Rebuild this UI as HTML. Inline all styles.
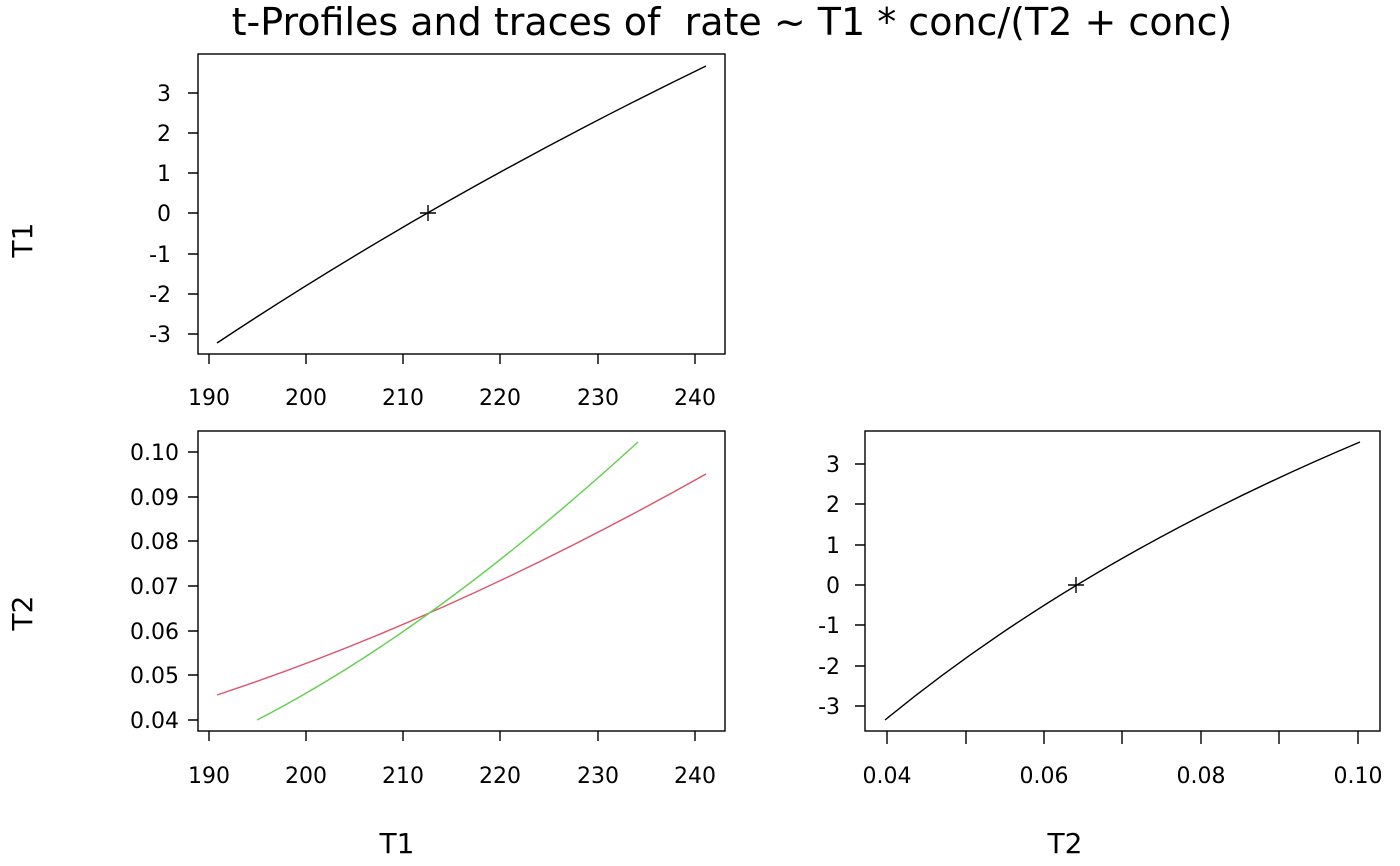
<!DOCTYPE html>
<html><head><meta charset="utf-8"><style>body{margin:0;background:#fff}svg{display:block}</style></head><body>
<svg width="1400" height="866" xmlns="http://www.w3.org/2000/svg" font-family="DejaVu Sans, Liberation Sans, sans-serif" fill="none">
<text x="732" y="35" font-size="38" fill="#000" text-anchor="middle" xml:space="preserve">t-Profiles and traces of  rate ~ T1 * conc/(T2 + conc)</text>
<g stroke="#000" stroke-width="1.4">
<rect x="198" y="54" width="527" height="300"/>
<rect x="198" y="431" width="527" height="300"/>
<rect x="865" y="431" width="515" height="300"/>
<path d="M209 354v10M306 354v10M403 354v10M500 354v10M598 354v10M695 354v10"/>
<path d="M209 731v10M306 731v10M403 731v10M500 731v10M598 731v10M695 731v10"/>
<path d="M887 731v13M966 731v13M1044 731v13M1122 731v13M1201 731v13M1279 731v13M1358 731v13"/>
<path d="M198 93h-10M198 133h-10M198 173h-10M198 213h-10M198 254h-10M198 294h-10M198 334h-10"/>
<path d="M198 452h-10M198 497h-10M198 541h-10M198 586h-10M198 631h-10M198 675h-10M198 720h-10"/>
<path d="M865 464h-10M865 504h-10M865 545h-10M865 585h-10M865 625h-10M865 666h-10M865 706h-10"/>
<path d="M217 343Q440 195 706 66"/>
<path d="M885 720Q1080 560 1360 442"/>
<path d="M420 213h16M428 205v16M1068 585h16M1076 577v16"/>
</g>
<path stroke="#DF536B" stroke-width="1.4" d="M217 695Q450 618 706 474"/>
<path stroke="#61D04F" stroke-width="1.4" d="M257 720Q432 630 638 442"/>
<g font-size="22" fill="#000" text-anchor="middle">
<text x="209" y="405">190</text><text x="306" y="405">200</text><text x="403" y="405">210</text><text x="500" y="405">220</text><text x="598" y="405">230</text><text x="695" y="405">240</text>
<text x="209" y="783">190</text><text x="306" y="783">200</text><text x="403" y="783">210</text><text x="500" y="783">220</text><text x="598" y="783">230</text><text x="695" y="783">240</text>
<text x="887" y="783">0.04</text><text x="1044" y="783">0.06</text><text x="1201" y="783">0.08</text><text x="1358" y="783">0.10</text>
<text x="397" y="853" font-size="28">T1</text><text x="1065" y="853" font-size="28">T2</text>
</g>
<g font-size="22" fill="#000" text-anchor="end">
<text x="171" y="101">3</text><text x="171" y="141">2</text><text x="171" y="181">1</text><text x="171" y="221">0</text><text x="171" y="262">-1</text><text x="171" y="302">-2</text><text x="171" y="342">-3</text>
<text x="179" y="460">0.10</text><text x="179" y="505">0.09</text><text x="179" y="549">0.08</text><text x="179" y="594">0.07</text><text x="179" y="639">0.06</text><text x="179" y="683">0.05</text><text x="179" y="728">0.04</text>
<text x="840" y="472">3</text><text x="840" y="512">2</text><text x="840" y="553">1</text><text x="840" y="593">0</text><text x="840" y="633">-1</text><text x="840" y="674">-2</text><text x="840" y="714">-3</text>
</g>
<text transform="translate(32,240) rotate(-90)" font-size="28" fill="#000" text-anchor="middle">T1</text>
<text transform="translate(32,613) rotate(-90)" font-size="28" fill="#000" text-anchor="middle">T2</text>
</svg>
</body></html>
